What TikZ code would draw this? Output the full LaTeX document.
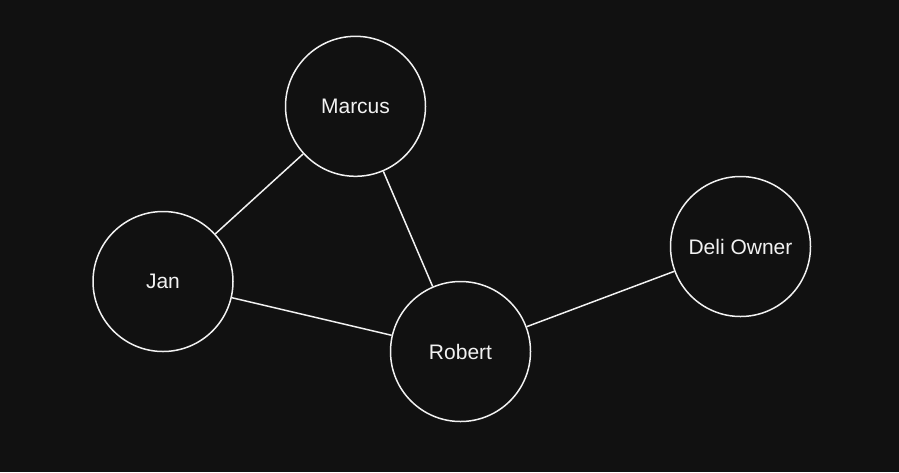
\documentclass[tikz,border=0pt]{standalone}
\usepackage{fontspec}
\setmainfont{Liberation Sans}
\definecolor{bg}{HTML}{111111}
\definecolor{fg}{HTML}{F2F2F2}
\begin{document}
\begin{tikzpicture}[x=1pt,y=-1pt,
  person/.style={circle,draw=fg,fill=bg,line width=1.5pt,minimum size=140pt,inner sep=0pt,text=fg,font=\fontsize{21}{25}\selectfont},
  link/.style={draw=fg,line width=1.5pt}]
\fill[bg] (0,0) rectangle (899,472);
\useasboundingbox (0,0) rectangle (899,472);
\node[person] (marcus) at (355.5,106.3) {Marcus};
\node[person] (jan) at (163,281.5) {Jan};
\node[person] (robert) at (460.5,351.5) {Robert};
\node[person] (deli) at (740.5,246.5) {Deli Owner};
\draw[link] (jan) -- (marcus);
\draw[link] (marcus) -- (robert);
\draw[link] (jan) -- (robert);
\draw[link] (robert) -- (deli);
\end{tikzpicture}
\end{document}
